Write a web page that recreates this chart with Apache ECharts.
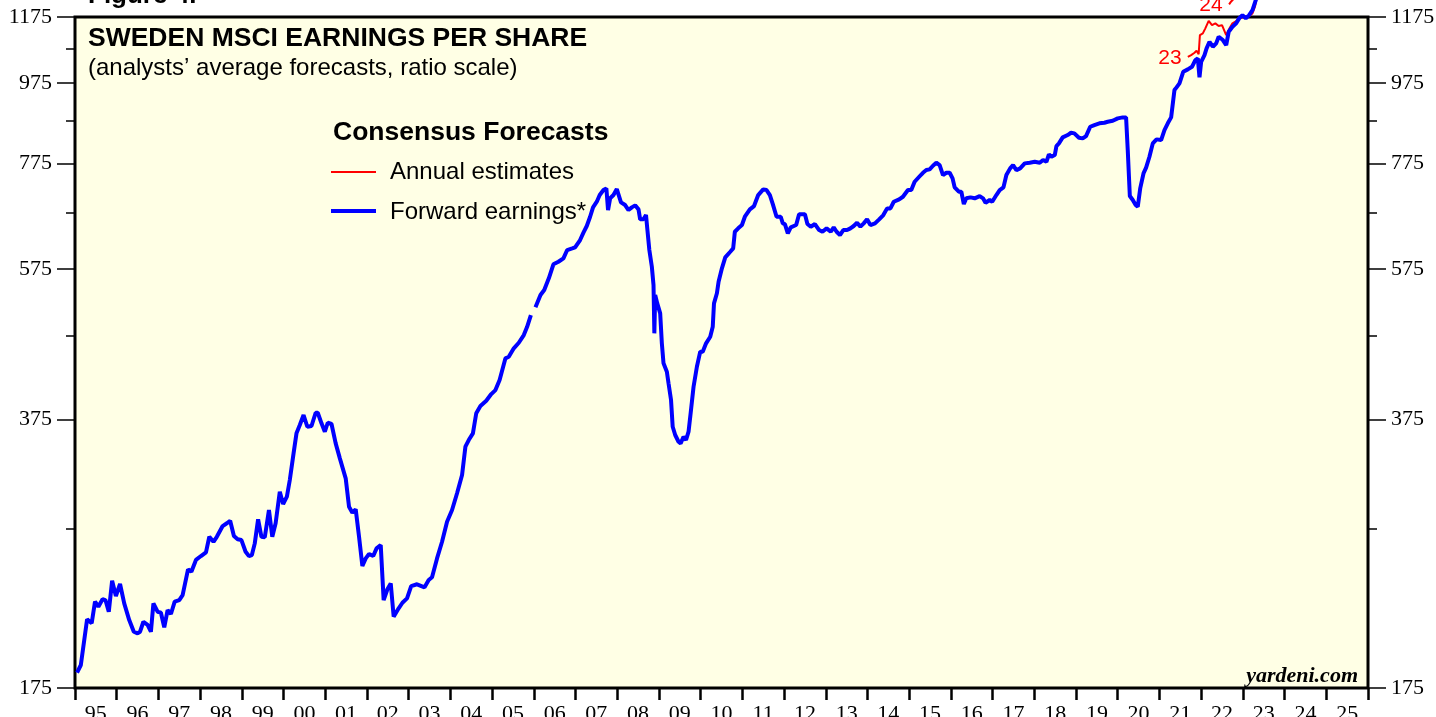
<!DOCTYPE html>
<html>
<head>
<meta charset="utf-8">
<title>Sweden MSCI Earnings Per Share</title>
<script src="https://cdn.jsdelivr.net/npm/echarts@6/dist/echarts.min.js"></script>
<style>
  html, body { margin: 0; padding: 0; background: #fff; }
  #myChart { width: 1436px; height: 717px; }
</style>
</head>
<body>
<div id="myChart"></div>
<script>
// bottom axis: one band per year
var yearLabels = ["95", "96", "97", "98", "99", "00", "01", "02", "03", "04", "05",
  "06", "07", "08", "09", "10", "11", "12", "13", "14", "15", "16", "17", "18",
  "19", "20", "21", "22", "23", "24", "25"];

// ratio scale ticks
var majorTicks = [175, 375, 575, 775, 975, 1175];
var minorTicks = [275, 475, 675, 875, 1075];

// forward earnings (decimal year / value)
var fwdYears = [
  1995.05, 1995.14, 1995.29, 1995.40, 1995.48, 1995.56, 1995.66, 1995.73, 1995.81, 1995.89, 1995.98,
  1996.08, 1996.18, 1996.30, 1996.41, 1996.50, 1996.56, 1996.64, 1996.74, 1996.82, 1996.88, 1996.98,
  1997.06, 1997.14, 1997.22, 1997.30, 1997.39, 1997.50, 1997.58, 1997.71, 1997.79, 1997.90,
  1998.02, 1998.14, 1998.22, 1998.32, 1998.40, 1998.54, 1998.64, 1998.72, 1998.81, 1998.90, 1998.99,
  1999.09, 1999.17, 1999.24, 1999.31, 1999.39, 1999.47, 1999.55, 1999.65, 1999.73, 1999.81, 1999.91, 1999.99,
  2000.08, 2000.15, 2000.24, 2000.31, 2000.39, 2000.48, 2000.57, 2000.67, 2000.77, 2000.82, 2000.91, 2000.99,
  2001.06, 2001.15, 2001.25, 2001.35, 2001.49, 2001.57, 2001.65, 2001.73, 2001.81, 2001.89, 2001.97,
  2002.05, 2002.15, 2002.23, 2002.33, 2002.40, 2002.49, 2002.57, 2002.64, 2002.76, 2002.85, 2002.96,
  2003.06, 2003.20, 2003.38, 2003.48, 2003.56, 2003.68, 2003.80, 2003.92,
  2004.04, 2004.16, 2004.28, 2004.36, 2004.44, 2004.54, 2004.62, 2004.72, 2004.86, 2004.98,
  2005.08, 2005.18, 2005.32, 2005.40, 2005.52, 2005.64, 2005.76, 2005.84, 2005.93, 2005.98,
  2006.04, 2006.16, 2006.25, 2006.36, 2006.47, 2006.59, 2006.71, 2006.80, 2006.92, 2006.99,
  2007.11, 2007.19, 2007.27, 2007.35, 2007.42, 2007.51, 2007.58, 2007.67, 2007.74, 2007.78, 2007.83, 2007.91, 2007.99,
  2008.03, 2008.09, 2008.19, 2008.27, 2008.35, 2008.43, 2008.51, 2008.55, 2008.63, 2008.69, 2008.72, 2008.77,
  2008.83, 2008.87, 2008.89, 2008.91, 2008.96,
  2009.03, 2009.07, 2009.11, 2009.19, 2009.23, 2009.29, 2009.33, 2009.39, 2009.47, 2009.52, 2009.59,
  2009.65, 2009.71, 2009.76, 2009.83, 2009.91, 2009.99,
  2010.05, 2010.13, 2010.23, 2010.29, 2010.32, 2010.39, 2010.43, 2010.51, 2010.59, 2010.71, 2010.78, 2010.82, 2010.90, 2010.99,
  2011.06, 2011.18, 2011.28, 2011.38, 2011.50, 2011.58, 2011.66, 2011.73, 2011.82, 2011.92, 2011.97,
  2012.02, 2012.09, 2012.16, 2012.29, 2012.36, 2012.50, 2012.56, 2012.64, 2012.74, 2012.84, 2012.92,
  2013.02, 2013.12, 2013.19, 2013.26, 2013.34, 2013.42, 2013.51, 2013.59, 2013.67, 2013.75, 2013.83, 2013.91, 2013.99,
  2014.07, 2014.18, 2014.28, 2014.38, 2014.47, 2014.55, 2014.63, 2014.76, 2014.85, 2014.97,
  2015.05, 2015.13, 2015.24, 2015.33, 2015.41, 2015.49, 2015.57, 2015.65, 2015.73, 2015.81, 2015.89, 2015.97,
  2016.04, 2016.09, 2016.19, 2016.25, 2016.31, 2016.37, 2016.47, 2016.57, 2016.69, 2016.77, 2016.83, 2016.93, 2016.99,
  2017.09, 2017.17, 2017.26, 2017.33, 2017.42, 2017.49, 2017.57, 2017.66, 2017.77, 2017.89,
  2018.01, 2018.13, 2018.21, 2018.29, 2018.35, 2018.41, 2018.49, 2018.53, 2018.59, 2018.68, 2018.80, 2018.88, 2018.96,
  2019.07, 2019.16, 2019.24, 2019.34, 2019.44, 2019.56, 2019.68, 2019.76, 2019.88,
  2020.00, 2020.12, 2020.20, 2020.24, 2020.29, 2020.36, 2020.43, 2020.48, 2020.54, 2020.62, 2020.68, 2020.76, 2020.84, 2020.93,
  2021.04, 2021.12, 2021.20, 2021.28, 2021.36, 2021.41, 2021.48, 2021.57, 2021.68, 2021.78, 2021.86, 2021.92, 2021.96,
  2022.00, 2022.08, 2022.13, 2022.20, 2022.28, 2022.36, 2022.42, 2022.52, 2022.60, 2022.66, 2022.75, 2022.84, 2022.91, 2022.99,
  2023.07, 2023.15, 2023.23, 2023.31, 2023.36
];
var fwdEps = [
  182.8, 186.8, 212.7, 210.3, 223.6, 220.4, 225.1, 224.6, 217.3, 237.3, 227.2,
  235.1, 222.5, 212.2, 205.3, 204.4, 205.3, 211.2, 209.3, 205.3, 222.5, 217.3,
  216.7, 207.9, 218.3, 215.9, 223.6, 224.6, 227.8, 245.1, 243.4, 251.7,
  254.5, 257.2, 268.8, 265.0, 268.8, 277.1, 279.3, 281.3, 269.4, 266.9, 266.3,
  257.6, 254.5, 255.2, 263.8, 282.4, 268.8, 268.4, 290.0, 268.8, 279.3, 305.4, 295.0,
  301.2, 315.8, 340.6, 360.5, 369.1, 379.7, 367.3, 368.1, 382.2, 382.2, 370.9, 362.2,
  371.5, 370.2, 350.4, 335.8, 317.3, 292.7, 287.8, 290.6, 268.8, 247.4, 252.8,
  256.0, 254.5, 260.1, 262.6, 224.6, 231.6, 235.5, 214.3, 219.4, 222.9, 225.7,
  233.7, 234.9, 232.9, 237.8, 239.6, 252.8, 265.0, 280.5,
  290.0, 304.1, 320.3, 347.1, 353.7, 360.5, 381.6, 389.5, 395.4, 403.0,
  407.6, 419.4, 446.0, 448.0, 458.9, 466.2, 476.5, 487.8, 504.3, null,
  515.5, 533.8, 541.4, 559.7, 582.4, 586.7, 592.4, 606.5, 609.4, 611.2,
  624.0, 637.1, 649.3, 666.6, 684.6, 695.6, 708.9, 719.0, 722.5, 679.4, 702.4, 708.9, 721.1,
  717.6, 694.4, 689.1, 679.4, 684.6, 688.5, 680.7, 661.7, 661.7, 669.8, 645.0, 606.5,
  578.4, 549.2, 478.8, 533.8, 521.3,
  506.7, 465.4, 439.7, 429.4, 415.5, 396.2, 367.3, 358.8, 352.0, 350.4, 357.1,
  353.7, 362.2, 381.6, 411.5, 435.5, 454.5,
  454.5, 465.4, 474.2, 487.8, 521.3, 536.4, 554.3, 575.8, 594.1, 603.6, 609.4, 638.8, 645.0, 651.1,
  666.6, 680.7, 687.1, 708.9, 720.4, 719.0, 708.9, 691.0, 666.6, 666.6, 654.2,
  652.9, 636.0, 646.9, 651.1, 671.2, 671.2, 652.9, 648.0, 652.9, 641.9, 638.8,
  645.0, 638.8, 646.9, 638.8, 632.9, 641.9, 641.9, 645.0, 649.3, 655.3, 648.0, 654.2, 661.7,
  651.1, 654.2, 661.7, 669.8, 682.6, 682.6, 695.6, 700.4, 705.5, 719.0,
  719.0, 736.2, 746.7, 755.2, 761.0, 762.5, 770.4, 777.0, 771.9, 750.3, 755.2, 755.2,
  743.3, 724.6, 715.6, 715.6, 691.0, 702.4, 704.3, 702.4, 706.9, 702.4, 693.6, 699.0, 695.6,
  708.9, 719.0, 724.6, 750.3, 764.7, 771.9, 761.0, 764.7, 775.6, 777.0,
  779.1, 777.0, 783.0, 779.1, 795.7, 790.3, 794.1, 814.7, 820.9, 835.0, 840.5, 846.0, 844.5,
  834.0, 832.6, 838.1, 860.5, 864.7, 868.9, 870.3, 872.8, 875.3,
  881.3, 883.7, 883.7, 805.4, 706.9, 699.0, 689.1, 685.7, 723.1, 754.6, 766.4, 790.3, 820.9, 830.3,
  828.7, 852.5, 868.9, 883.7, 955.0, 962.3, 973.3, 1005.8, 1012.7, 1020.2, 1039.8, 1044.8, 990.0,
  1034.8, 1054.7, 1074.9, 1095.2, 1079.9, 1090.3, 1110.9, 1100.6, 1085.1, 1126.7, 1142.9, 1154.0, 1170.4, 1181.4,
  1170.4, 1181.4, 1198.3, 1232.9, 1265
];

// annual estimates for 2023 and 2024
var est23Years = [2021.68, 2021.76, 2021.84, 2021.89, 2021.94, 2021.97, 2022.04, 2022.10, 2022.18,
  2022.26, 2022.34, 2022.42, 2022.50, 2022.60, 2022.68, 2022.75, 2022.85, 2022.93, 2023.03,
  2023.15, 2023.23, 2023.29, 2023.32, 2023.35];
var est23Eps = [1049.6, 1054.7, 1061.6, 1067.6, 1057.6, 1116.3, 1121.6, 1137.7, 1162.4,
  1148.3, 1154.0, 1145.1, 1148.3, 1116.3, 1137.7, 1154.0, 1162.4, 1170.4, 1175.8,
  1178.1, 1187.1, 1209.8, 1232.9, 1265];
var est24Years = [2022.67, 2022.72, 2022.80, 2022.90];
var est24Eps = [1218, 1228, 1240, 1262];

function pairs(xs, ys) {
  return xs.map(function (x, i) {
    return [x, ys[i] === null ? "-" : ys[i]];
  });
}

var serif = "'Liberation Serif', 'Times New Roman', serif";
var sans = "'Liberation Sans', Arial, sans-serif";

function ratioAxis(position, ticks, tickLength, showLabel) {
  return {
    type: "log",
    position: position,
    min: 175,
    max: 1175,
    axisLine: { show: false },
    splitLine: { show: false },
    axisTick: {
      show: true,
      customValues: ticks,
      length: tickLength,
      lineStyle: { color: "#000", width: 1.5 },
    },
    axisLabel: {
      show: showLabel,
      customValues: ticks,
      margin: 23,
      color: "#000",
      fontFamily: serif,
      fontSize: 22,
      formatter: function (v) {
        return String(Math.round(v));
      },
    },
  };
}

var chart = echarts.init(document.getElementById("myChart"));

var options = {
  animation: false,
  backgroundColor: "#fff",
  grid: {
    left: 75,
    right: 68,
    top: 17,
    bottom: 29,
    show: true,
    backgroundColor: "#ffffe5",
    borderColor: "#000",
    borderWidth: 3,
    outerBoundsMode: "none",
  },
  xAxis: [
    {
      type: "category",
      data: yearLabels,
      boundaryGap: true,
      position: "bottom",
      axisLine: { show: false },
      axisTick: { show: true, length: 12, lineStyle: { color: "#000", width: 2.5 } },
      axisLabel: {
        interval: 0,
        margin: 15,
        color: "#000",
        fontFamily: serif,
        fontSize: 22,
      },
      splitLine: { show: false },
    },
    {
      type: "value",
      min: 1995,
      max: 2026,
      show: false,
    },
  ],
  yAxis: [
    ratioAxis("left", majorTicks, 18, true),
    ratioAxis("left", minorTicks, 9, false),
    ratioAxis("right", majorTicks, 18, true),
    ratioAxis("right", minorTicks, 9, false),
  ],
  series: [
    {
      name: "Annual estimates 2023",
      type: "line",
      xAxisIndex: 1,
      yAxisIndex: 0,
      data: pairs(est23Years, est23Eps),
      symbol: "none",
      clip: false,
      lineStyle: { color: "#ff0000", width: 2 },
    },
    {
      name: "Annual estimates 2024",
      type: "line",
      xAxisIndex: 1,
      yAxisIndex: 0,
      data: pairs(est24Years, est24Eps),
      symbol: "none",
      clip: false,
      lineStyle: { color: "#ff0000", width: 2 },
    },
    {
      name: "Forward earnings",
      type: "line",
      xAxisIndex: 1,
      yAxisIndex: 0,
      data: pairs(fwdYears, fwdEps),
      symbol: "none",
      clip: false,
      connectNulls: false,
      lineStyle: { color: "#0000ff", width: 4 },
    },
  ],
  graphic: [
    { type: "text", x: 88, y: -4, style: { text: "Figure 4.", font: "bold 26px " + sans, fill: "#000", textVerticalAlign: "middle" } },
    { type: "text", x: 88, y: 39, style: { text: "SWEDEN MSCI EARNINGS PER SHARE", font: "bold 26.5px " + sans, fill: "#000", textVerticalAlign: "middle" } },
    { type: "text", x: 88, y: 68, style: { text: "(analysts\u2019 average forecasts, ratio scale)", font: "24px " + sans, fill: "#000", textVerticalAlign: "middle" } },
    { type: "text", x: 333, y: 133, style: { text: "Consensus Forecasts", font: "bold 26.5px " + sans, fill: "#000", textVerticalAlign: "middle" } },
    { type: "line", shape: { x1: 331, y1: 172, x2: 376, y2: 172 }, style: { stroke: "#ff0000", lineWidth: 2 } },
    { type: "text", x: 390, y: 172, style: { text: "Annual estimates", font: "24px " + sans, fill: "#000", textVerticalAlign: "middle" } },
    { type: "line", shape: { x1: 331, y1: 211, x2: 376, y2: 211 }, style: { stroke: "#0000ff", lineWidth: 4 } },
    { type: "text", x: 390, y: 212, style: { text: "Forward earnings*", font: "24px " + sans, fill: "#000", textVerticalAlign: "middle" } },
    { type: "text", x: 1170, y: 58, style: { text: "23", font: "21px " + sans, fill: "#ff0000", textAlign: "center", textVerticalAlign: "middle" } },
    { type: "text", x: 1211, y: 5, style: { text: "24", font: "21px " + sans, fill: "#ff0000", textAlign: "center", textVerticalAlign: "middle" } },
    { type: "text", x: 1358, y: 676, style: { text: "yardeni.com", font: "italic bold 22px " + serif, fill: "#000", textAlign: "right", textVerticalAlign: "middle" } },
  ],
};

chart.setOption(options);
</script>
</body>
</html>
